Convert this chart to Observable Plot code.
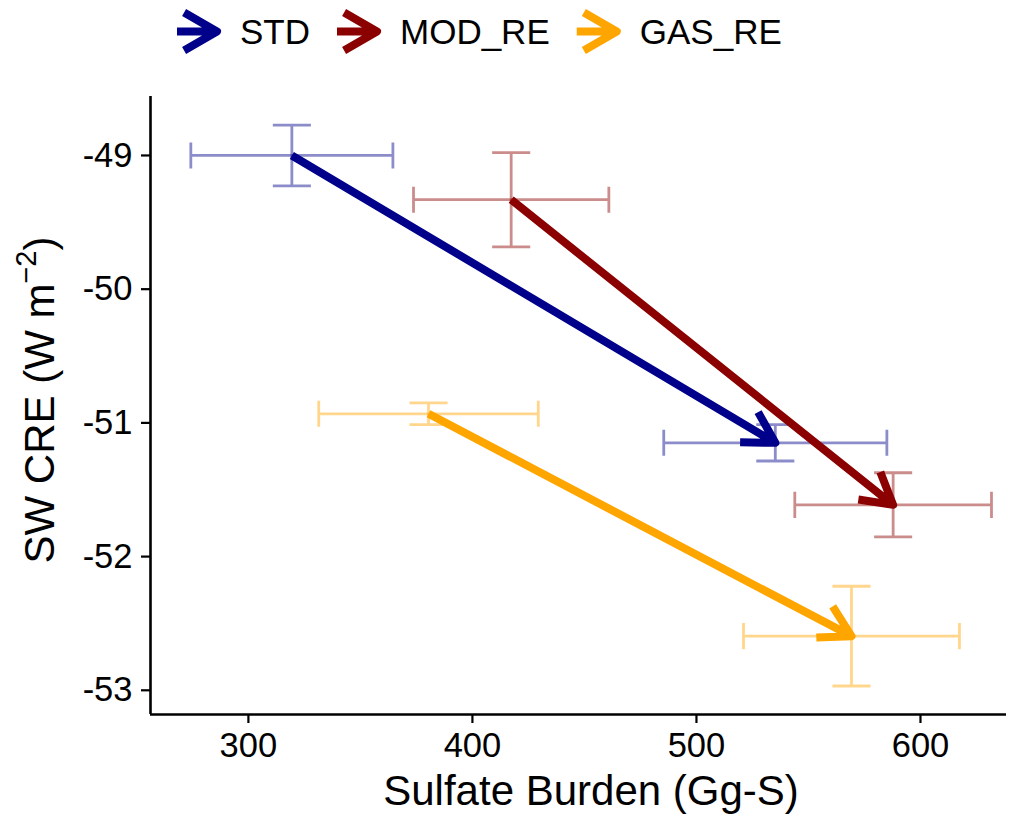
<!DOCTYPE html>
<html>
<head>
<meta charset="utf-8">
<script src="https://cdn.jsdelivr.net/npm/d3@7"></script>
<script src="https://cdn.jsdelivr.net/npm/@observablehq/plot@0.6"></script>
<style>
  html, body { margin: 0; padding: 0; background: #ffffff; }
  body { width: 1018px; height: 816px; overflow: hidden; font-family: "Liberation Sans", Arial, sans-serif; }
  svg { display: block; }
</style>
</head>
<body>
<div id="chart"></div>
<script>
// ---- data ----
const series = ["STD", "MOD_RE", "GAS_RE"];
const colors = ["#00008B", "#8B0000", "#FFA500"];
const startX = [319.4, 417.3, 380.4];
const startY = [-49.00, -49.331, -50.932];
const startXErr = [45.1, 43.6, 49.0];
const startYErr = [0.227, 0.352, 0.081];
const endX = [535.2, 587.8, 569.2];
const endY = [-51.149, -51.613, -52.595];
const endXErr = [49.8, 43.9, 48.2];
const endYErr = [0.136, 0.240, 0.373];
const xTicks = [300, 400, 500, 600];
const yTicks = [-53, -52, -51, -50, -49];
const xTitle = "Sulfate Burden (Gg-S)";
const yTitleMain = "SW CRE (W m";
const yTitleSup = "\u22122";
const yTitleEnd = ")";

// ---- scale / style settings ----
const xDomain = [256.3, 638.4];
const yDomain = [-53.181, -48.559];
const capHalfX = 8.5;     // x units (errorbar cap half width)
const capHalfY = 0.0975;  // y units (errorbarh cap half height)
const FONT = '"Liberation Sans", Arial, Helvetica, sans-serif';

// ---- build tables ----
const points = [];
series.forEach((s, i) => {
  points.push({series: s, x: startX[i], y: startY[i], xe: startXErr[i], ye: startYErr[i], id: s + "-start"});
  points.push({series: s, x: endX[i], y: endY[i], xe: endXErr[i], ye: endYErr[i], id: s + "-end"});
});
const barRows = [];
points.forEach(p => {
  [[p.x - capHalfX, p.y + p.ye], [p.x + capHalfX, p.y + p.ye], [p.x, p.y + p.ye],
   [p.x, p.y - p.ye], [p.x - capHalfX, p.y - p.ye], [p.x + capHalfX, p.y - p.ye]]
    .forEach(([x, y]) => barRows.push({id: p.id + "-v", series: p.series, x, y}));
  [[p.x - p.xe, p.y + capHalfY], [p.x - p.xe, p.y - capHalfY], [p.x - p.xe, p.y],
   [p.x + p.xe, p.y], [p.x + p.xe, p.y + capHalfY], [p.x + p.xe, p.y - capHalfY]]
    .forEach(([x, y]) => barRows.push({id: p.id + "-h", series: p.series, x, y}));
});
const arrows = series.map((s, i) => ({series: s, x1: startX[i], y1: startY[i], x2: endX[i], y2: endY[i]}));

// ---- legend (above the plot) ----
const legendH = 66;
const legend = d3.create("svg").attr("width", 1018).attr("height", legendH)
  .style("background", "#fff");
document.getElementById("chart").appendChild(legend.node());
let lx = 177;
const cy = 31.5;
series.forEach((s, i) => {
  const tip = lx + 40;
  const wl = 38, a = Math.PI / 6;
  legend.append("path")
    .attr("d", `M${lx},${cy}L${tip},${cy}M${tip - wl * Math.cos(a)},${cy - wl * Math.sin(a)}L${tip},${cy}L${tip - wl * Math.cos(a)},${cy + wl * Math.sin(a)}`)
    .attr("fill", "none").attr("stroke", colors[i]).attr("stroke-width", 8)
    .attr("stroke-linejoin", "round").attr("stroke-linecap", "butt");
  const t = legend.append("text")
    .attr("x", lx + 63).attr("y", 44)
    .attr("font-family", FONT).attr("font-size", 35).attr("fill", "#000")
    .text(s);
  const w = t.node().getComputedTextLength();
  lx = lx + 63 + w + 27;
});

// ---- plot ----
const plot = Plot.plot({
  width: 1018,
  height: 816 - legendH,
  marginTop: 96 - legendH,
  marginBottom: 816 - 714,
  marginLeft: 150,
  marginRight: 12,
  style: {fontFamily: FONT, fontSize: "34px", color: "#000", background: "#fff", overflow: "visible"},
  x: {domain: xDomain},
  y: {domain: yDomain},
  color: {domain: series, range: colors},
  marks: [
    Plot.line(barRows, {x: "x", y: "y", z: "id", stroke: "series", strokeOpacity: 0.45, strokeWidth: 2.8,
      strokeLinejoin: "miter", strokeLinecap: "butt"}),
    Plot.arrow(arrows, {x1: "x1", y1: "y1", x2: "x2", y2: "y2", stroke: "series", strokeWidth: 8,
      headLength: 6.6, headAngle: 60, strokeLinejoin: "round", strokeLinecap: "butt"}),
    Plot.ruleX([xDomain[0]], {stroke: "#000", strokeWidth: 2.6}),
    Plot.ruleY([yDomain[0]], {stroke: "#000", strokeWidth: 2.6}),
    Plot.axisX({ticks: xTicks, tickSize: 9, tickPadding: 9, strokeWidth: 2.2, fontSize: 34.5,
      label: null, tickFormat: d => String(d), fill: "#000"}),
    Plot.axisY({ticks: yTicks, tickSize: 9, tickPadding: 9, strokeWidth: 2.2, fontSize: 34.5,
      label: null, tickFormat: d => String(d), fill: "#000"})
  ]
});
document.getElementById("chart").appendChild(plot);

// axis titles
const svg = d3.select(plot);
svg.append("text")
  .attr("x", 591).attr("y", 805 - legendH)
  .attr("text-anchor", "middle").attr("font-family", FONT).attr("font-size", 42).attr("fill", "#000")
  .text(xTitle);
const yt = svg.append("text")
  .attr("transform", `translate(54,${400 - legendH}) rotate(-90)`)
  .attr("text-anchor", "middle").attr("font-family", FONT).attr("font-size", 42).attr("fill", "#000");
yt.append("tspan").text(yTitleMain);
yt.append("tspan").attr("dy", -18).attr("font-size", 29).text(yTitleSup);
yt.append("tspan").attr("dy", 18).text(yTitleEnd);
</script>
</body>
</html>
